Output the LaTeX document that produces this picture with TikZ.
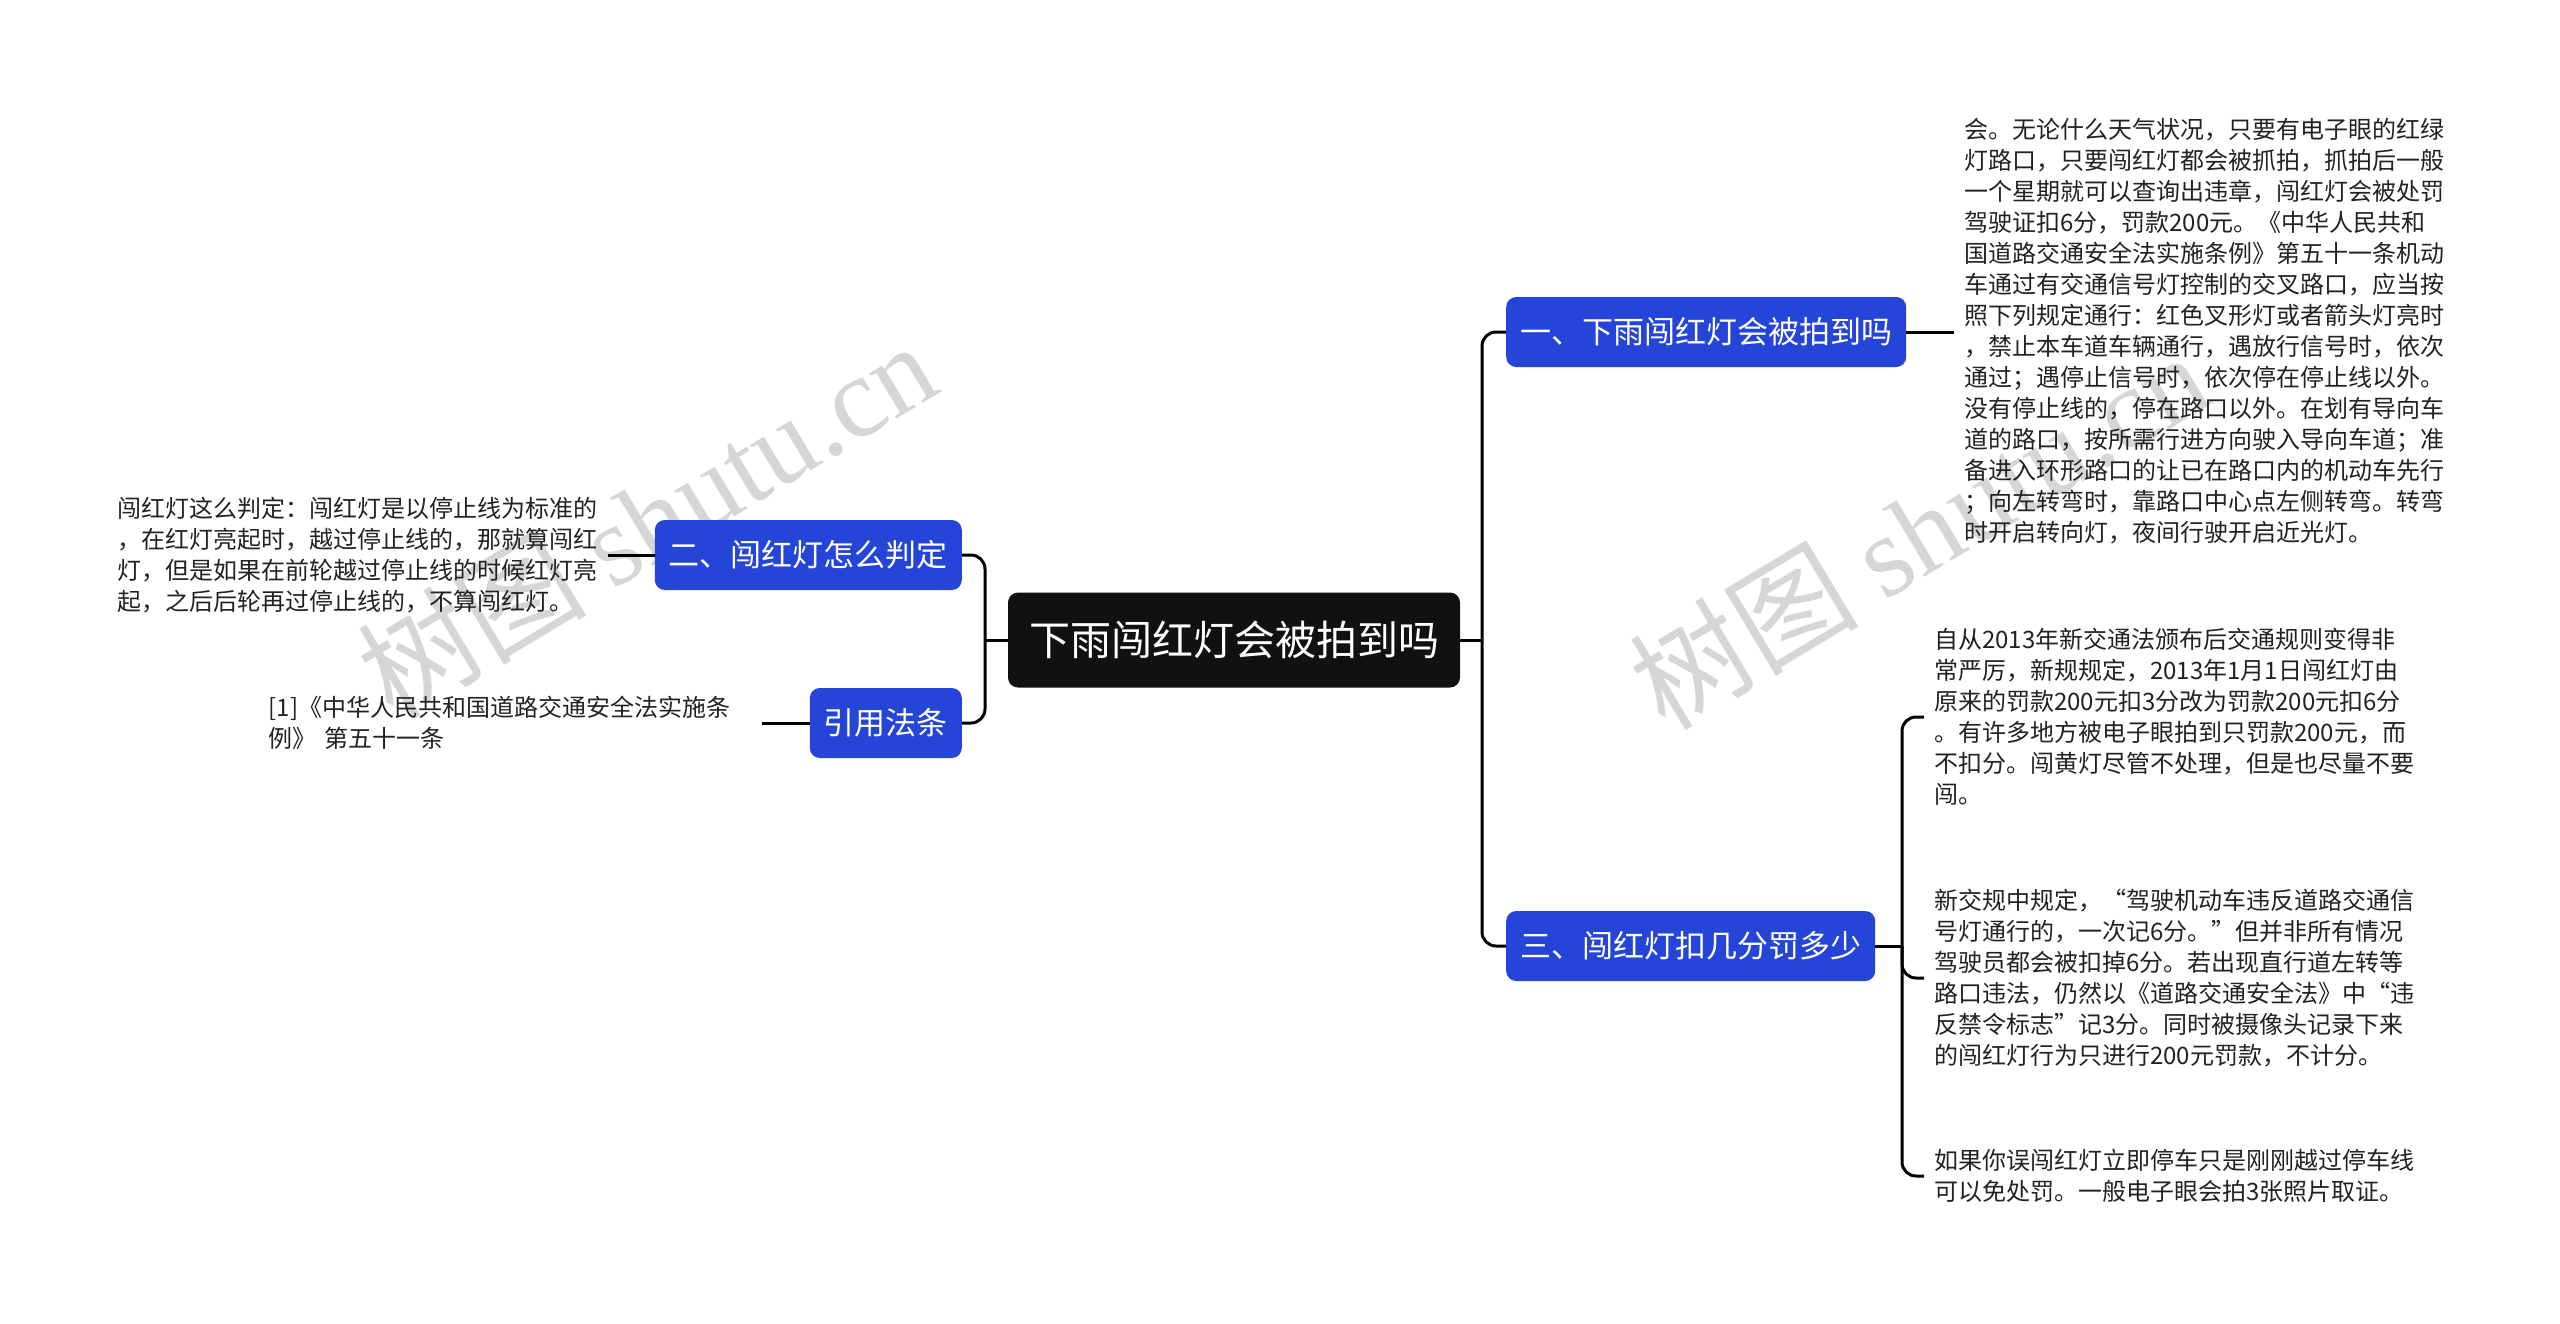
\documentclass[tikz,border=0pt]{standalone}
\usepackage{fontspec}
\setmainfont{Noto Sans CJK SC}
\newfontfamily\wmserif{Liberation Serif}
\definecolor{nodeblue}{HTML}{2545D8}
\definecolor{rootblack}{HTML}{111111}
\definecolor{wmgray}{HTML}{D6D6D6}
\definecolor{bodytext}{HTML}{222222}
\begin{document}
\begin{tikzpicture}[x=1pt,y=-1pt,
  rootnode/.style={fill=rootblack, text=white, rounded corners=10pt, minimum height=95pt, inner xsep=21pt, inner ysep=0pt, font=\fontsize{41}{41}\selectfont},
  branch/.style={fill=nodeblue, text=white, rounded corners=10pt, minimum height=70pt, inner xsep=14pt, inner ysep=0pt, font=\fontsize{31}{31}\selectfont},
  leaf/.style={align=left, inner sep=10pt, text=bodytext, font=\fontsize{24}{31}\selectfont},
  conn/.style={line width=3pt, rounded corners=14pt},
  wm/.style={text=wmgray, rotate=31, font=\fontsize{115}{115}\selectfont}
]
\fill[white] (0,0) rectangle (2560,1323);
\useasboundingbox (0,0) rectangle (2560,1323);

% watermarks
\node[wm] (wm1) at (646,519) {树图 {\wmserif shutu.cn}};
\node[wm] (wm2) at (1918,530) {树图 {\wmserif shutu.cn}};

% root
\node[rootnode] (root) at (1234,640) {下雨闯红灯会被拍到吗};

% branches
\node[branch, anchor=west] (b1) at (1506,332) {一、下雨闯红灯会被拍到吗};
\node[branch, anchor=west] (b3) at (1506,946) {三、闯红灯扣几分罚多少};
\node[branch, anchor=east] (b2) at (962,555) {二、闯红灯怎么判定};
\node[branch, anchor=east] (b4) at (962,723) {引用法条};

% leaves
\node[leaf, anchor=west] (t1) at (1954,331) {会。无论什么天气状况，只要有电子眼的红绿\\
灯路口，只要闯红灯都会被抓拍，抓拍后一般\\
一个星期就可以查询出违章，闯红灯会被处罚\\
驾驶证扣6分，罚款200元。《中华人民共和\\
国道路交通安全法实施条例》第五十一条机动\\
车通过有交通信号灯控制的交叉路口，应当按\\
照下列规定通行：红色叉形灯或者箭头灯亮时\\
，禁止本车道车辆通行，遇放行信号时，依次\\
通过；遇停止信号时，依次停在停止线以外。\\
没有停止线的，停在路口以外。在划有导向车\\
道的路口，按所需行进方向驶入导向车道；准\\
备进入环形路口的让已在路口内的机动车先行\\
；向左转弯时，靠路口中心点左侧转弯。转弯\\
时开启转向灯，夜间行驶开启近光灯。};

\node[leaf, anchor=west] (c1) at (1924,717) {自从2013年新交通法颁布后交通规则变得非\\
常严厉，新规规定，2013年1月1日闯红灯由\\
原来的罚款200元扣3分改为罚款200元扣6分\\
。有许多地方被电子眼拍到只罚款200元，而\\
不扣分。闯黄灯尽管不处理，但是也尽量不要\\
闯。};

\node[leaf, anchor=west] (c2) at (1924,978) {新交规中规定，“驾驶机动车违反道路交通信\\
号灯通行的，一次记6分。”但并非所有情况\\
驾驶员都会被扣掉6分。若出现直行道左转等\\
路口违法，仍然以《道路交通安全法》中“违\\
反禁令标志”记3分。同时被摄像头记录下来\\
的闯红灯行为只进行200元罚款，不计分。};

\node[leaf, anchor=west] (c3) at (1924,1176) {如果你误闯红灯立即停车只是刚刚越过停车线\\
可以免处罚。一般电子眼会拍3张照片取证。};

\node[leaf, anchor=east] (t2) at (608,555) {闯红灯这么判定：闯红灯是以停止线为标准的\\
，在红灯亮起时，越过停止线的，那就算闯红\\
灯，但是如果在前轮越过停止线的时候红灯亮\\
起，之后后轮再过停止线的，不算闯红灯。};

\node[leaf, anchor=east, text width=483pt] (t4) at (762,723) {[1]《中华人民共和国道路交通安全法实施条\\
例》 第五十一条};

% connectors
\coordinate (rj) at (1482,640);
\coordinate (lj) at (985,640);
\coordinate (j3) at (1902,946);
\draw[conn] (root.east) -- (rj);
\draw[conn] (rj) |- (b1.west);
\draw[conn] (rj) |- (b3.west);
\draw[conn] (root.west) -- (lj);
\draw[conn] (lj) |- (b2.east);
\draw[conn] (lj) |- (b4.east);
\draw[conn] (b1.east) -- (t1.west |- b1.east);
\draw[conn] (b3.east) -- (j3);
\draw[conn] (j3) |- (c1.west);
\draw[conn] (j3) |- (c2.west);
\draw[conn] (j3) |- (c3.west);
\draw[conn] (b2.west) -- (t2.east |- b2.west);
\draw[conn] (b4.west) -- (t4.east |- b4.west);
\end{tikzpicture}
\end{document}
